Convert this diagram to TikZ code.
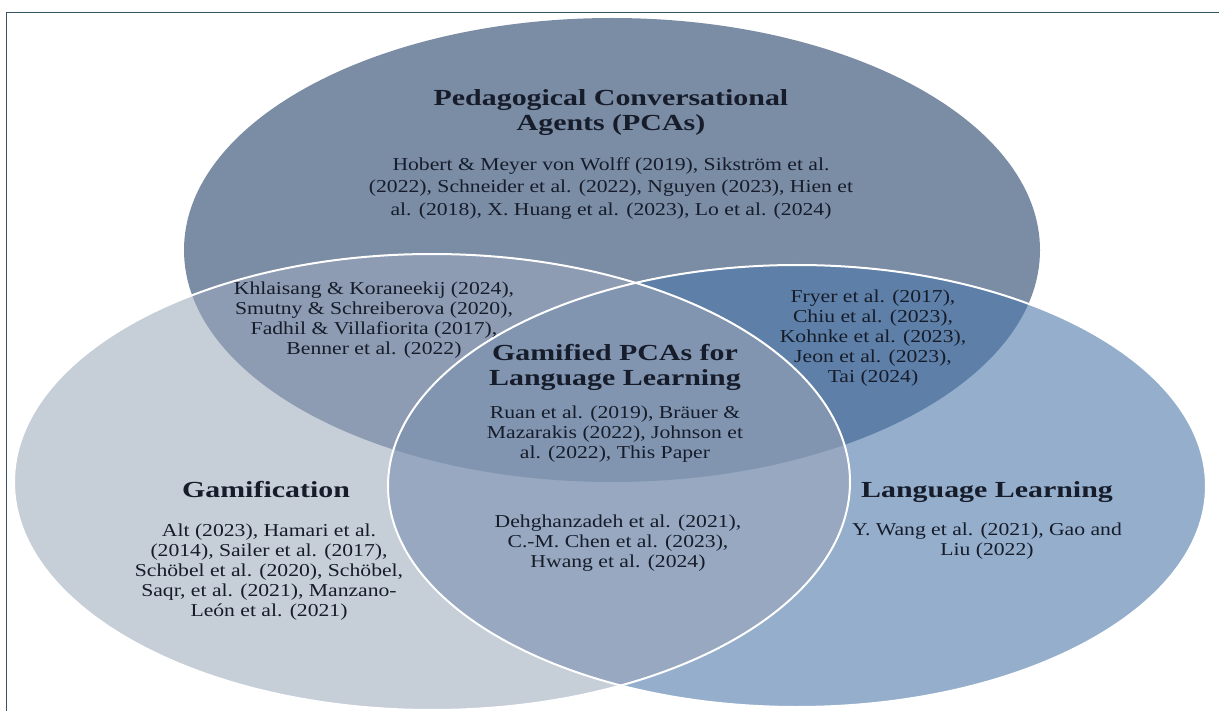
\documentclass[tikz,border=0pt]{standalone}
\usepackage{fontspec}
\setmainfont{Liberation Serif}[FakeStretch=1.19]
\newfontfamily\headfont{Liberation Serif}[FakeStretch=1.3]
\usepackage{tikz}
\usetikzlibrary{positioning}

\definecolor{pcafill}{RGB}{123,140,165}
\definecolor{gamfill}{RGB}{198,206,216}
\definecolor{langfill}{RGB}{148,174,204}
\definecolor{pgfill}{RGB}{141,156,179}
\definecolor{plfill}{RGB}{94,128,168}
\definecolor{glfill}{RGB}{151,168,192}
\definecolor{allfill}{RGB}{129,149,177}
\definecolor{inkc}{RGB}{22,28,42}
\definecolor{framec}{RGB}{52,84,100}

% the three sets
\newcommand{\pcaset}{(612,-250) ellipse [x radius=428pt, y radius=232pt]}
\newcommand{\gamset}{(432,-482) ellipse [x radius=418pt, y radius=228pt]}
\newcommand{\langset}{(797,-486) ellipse [x radius=409pt, y radius=221pt]}

\tikzstyle{head} = [inner sep=0pt, align=center, text=inkc, font=\headfont\bfseries\fontsize{23}{25}\selectfont]
\tikzstyle{refs} = [inner sep=0pt, align=center, text=inkc, font=\fontsize{18.2}{20}\selectfont]
\tikzstyle{toprefs} = [refs, font=\fontsize{18.2}{22.5}\selectfont]
\tikzstyle{rim} = [draw=white, line width=2pt]
\tikzstyle{frame} = [draw=framec, line width=1.5pt]

\begin{document}
\begin{tikzpicture}[x=1pt, y=1pt]
\useasboundingbox (0,0) rectangle (1219,-711);
\fill[white] (0,0) rectangle (1219,-711);

\fill[pcafill] \pcaset;
\fill[gamfill] \gamset;
\fill[langfill] \langset;
\begin{scope}
  \clip \pcaset;
  \fill[pgfill] \gamset;
  \fill[plfill] \langset;
\end{scope}
\begin{scope}
  \clip \gamset;
  \fill[glfill] \langset;
\end{scope}
\begin{scope}
  \clip \pcaset;
  \clip \gamset;
  \fill[allfill] \langset;
\end{scope}
\draw[rim] \gamset;
\draw[rim] \langset;

\draw[frame] (6.5,-720) |- (1230,-12.5);

\node (pcahead) [head] at (611,-113) {Pedagogical Conversational\\Agents (PCAs)};
\node (pcarefs) [toprefs, below=21pt of pcahead] {Hobert \& Meyer von Wolff (2019), Sikström et al.\\(2022), Schneider et al. (2022), Nguyen (2023), Hien et\\al. (2018), X. Huang et al. (2023), Lo et al. (2024)};

\node (pgrefs) [refs] at (374,-320) {Khlaisang \& Koraneekij (2024),\\Smutny \& Schreiberova (2020),\\Fadhil \& Villafiorita (2017),\\Benner et al. (2022)};
\node (plrefs) [refs] at (873,-338) {Fryer et al. (2017),\\Chiu et al. (2023),\\Kohnke et al. (2023),\\Jeon et al. (2023),\\Tai (2024)};

\node (allhead) [head] at (615,-367) {Gamified PCAs for\\Language Learning};
\node (allrefs) [refs, below=15pt of allhead] {Ruan et al. (2019), Bräuer \&\\Mazarakis (2022), Johnson et\\al. (2022), This Paper};

\node (glrefs) [refs] at (618,-543) {Dehghanzadeh et al. (2021),\\C.-M. Chen et al. (2023),\\Hwang et al. (2024)};

\node (gamhead) [head] at (266,-490) {Gamification};
\node (gamrefs) [refs, below=25pt of gamhead, xshift=3pt] {Alt (2023), Hamari et al.\\(2014), Sailer et al. (2017),\\Schöbel et al. (2020), Schöbel,\\Saqr, et al. (2021), Manzano-\\León et al. (2021)};

\node (langhead) [head] at (987,-492) {Language Learning};
\node (langrefs) [refs, below=20pt of langhead] {Y. Wang et al. (2021), Gao and\\Liu (2022)};

\end{tikzpicture}
\end{document}
